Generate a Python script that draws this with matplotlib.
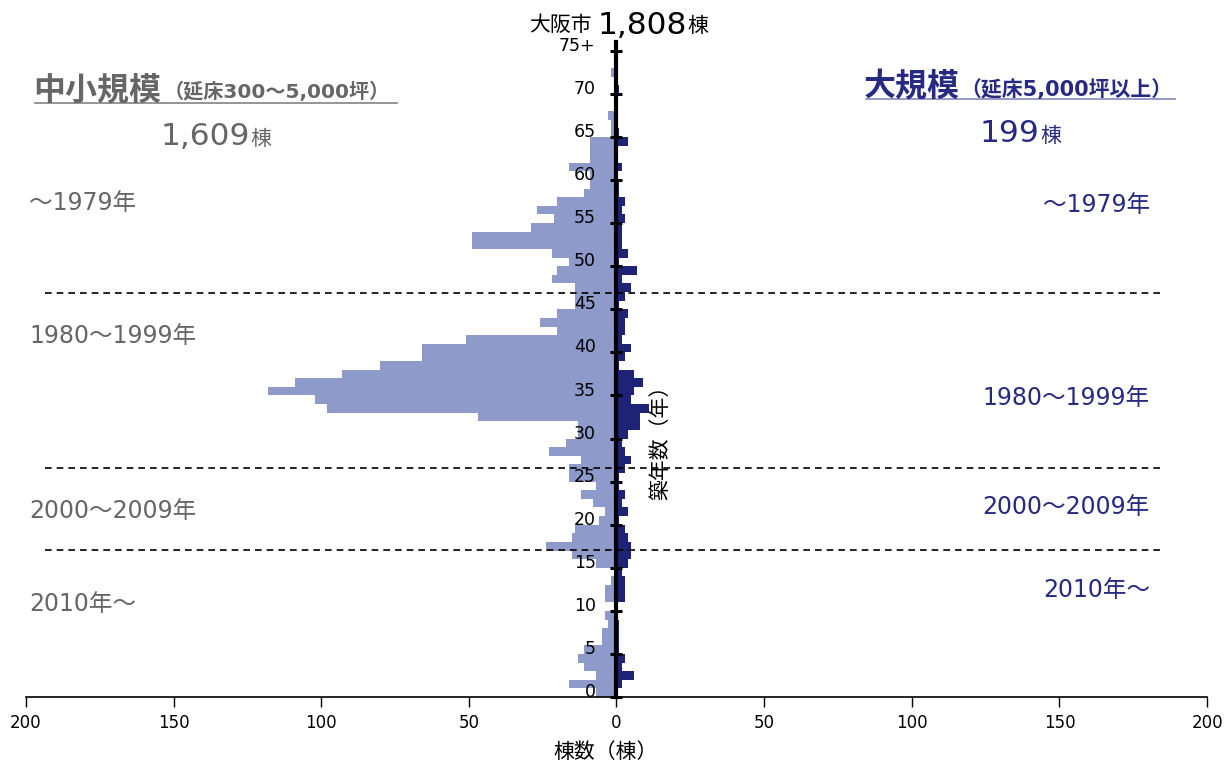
import numpy as np
import matplotlib
matplotlib.use("Agg")
import matplotlib.pyplot as plt

plt.rcParams['font.family'] = ['DejaVu Sans', 'Noto Sans CJK JP']

# building age (years) 0..75+, counts per age
ages = list(range(76))
age_labels = [str(a) for a in range(0, 75, 5)] + ['75+']

# 中小規模 (延床300~5,000坪), age 0..75
small = [7, 16, 7, 11, 13, 11, 5, 5, 3, 4,
         1, 4, 4, 2, 1, 7, 15, 24, 15, 14,
         6, 4, 8, 12, 7, 16, 16, 12, 23, 17,
         13, 13, 47, 98, 102, 118, 109, 93, 80, 66,
         66, 51, 20, 26, 20, 14, 14, 14, 22, 20,
         16, 22, 49, 49, 29, 21, 27, 20, 11, 9,
         9, 16, 9, 9, 9, 2, 2, 3, 0, 0,
         0, 0, 2, 0, 0, 0]

# 大規模 (延床5,000坪以上), age 0..75
large = [0, 2, 6, 2, 3, 1, 1, 1, 1, 0,
         0, 3, 3, 3, 2, 4, 5, 5, 4, 3,
         1, 4, 2, 3, 1, 1, 3, 5, 3, 2,
         4, 8, 8, 11, 5, 6, 9, 6, 1, 3,
         5, 2, 3, 3, 4, 1, 3, 5, 2, 7,
         1, 4, 2, 2, 2, 3, 2, 3, 1, 1,
         0, 2, 0, 0, 4, 1, 0, 0, 0, 0,
         1, 0, 0, 0, 0, 0]

# era boundaries (in age units) and era names
era_bounds = [46.85, 26.55, 17.1]
eras = ['～1979年', '1980～1999年', '2000～2009年', '2010年～']

GREY = '#666666'
NAVY = '#262a80'
LIGHT = '#8e9aca'
DARK = '#1f2377'

W, H = 1226, 769
fig = plt.figure(figsize=(W / 100, H / 100), dpi=100)
ax = fig.add_axes([25.9 / W, 1 - 697.1 / H, 1181.2 / W, 655.0 / H])


def px(x, y):
    return x / W, 1 - y / H


ax.barh(ages, [-v for v in small], height=1, align='edge',
        color=LIGHT, linewidth=0)
ax.barh(ages, large, height=1, align='edge',
        color=DARK, linewidth=0)

ax.set_xlim(-200, 200)
ax.set_ylim(0, 76)

for b in era_bounds:
    ax.plot([-193.5, 184], [b, b], color='black', lw=1.2,
            ls=(0, (4, 3)), zorder=1)

# spines
ax.spines['top'].set_visible(False)
ax.spines['right'].set_visible(False)
ax.spines['left'].set_position(('data', 0))
ax.spines['left'].set_linewidth(3)
ax.spines['left'].set_zorder(5)
ax.spines['bottom'].set_linewidth(1.2)

# x axis
xt = np.arange(-200, 201, 50)
ax.set_xticks(xt)
ax.set_xticklabels([str(abs(v)) for v in xt], fontsize=12)
ax.tick_params(axis='x', direction='out', length=7, width=1, pad=5)

# y axis: ticks at boundaries, labels at category centres
ax.set_yticks(np.arange(0, 76, 5))
ax.set_yticklabels([])
ax.tick_params(axis='y', which='major', direction='inout', length=9,
               width=2.2, color='black')
ax.set_yticks([a + 0.8 for a in range(0, 76, 5)], minor=True)
ax.set_yticklabels(age_labels, minor=True, fontsize=12.5)
ax.tick_params(axis='y', which='minor', length=0, pad=15)

# axis titles
fig.text(*px(606, 752), '棟数（棟）', fontsize=15, ha='center', va='center')
fig.text(*px(660, 437), '築年数（年）', fontsize=15, ha='center',
         va='center', rotation=90)

# title
fig.text(*px(592, 31), '大阪市', fontsize=15, ha='right', va='baseline')
fig.text(*px(598, 34), '1,808', fontsize=22.5, ha='left', va='baseline')
fig.text(*px(687, 32), '棟', fontsize=15, ha='left', va='baseline')

# left heading
fig.text(*px(33, 100), '中小規模', fontsize=23, fontweight='bold',
         color=GREY, ha='left', va='baseline')
fig.text(*px(164, 98), '（延床300～5,000坪）', fontsize=14.5, fontweight='bold',
         color=GREY, ha='left', va='baseline')
fig.add_artist(plt.Line2D([35 / W, 397 / W], [1 - 103 / H, 1 - 103 / H],
                          color='#8c8c8c', lw=1.3))
fig.text(*px(161, 145), '1,609', fontsize=22.5, color=GREY, ha='left',
         va='baseline')
fig.text(*px(250, 145), '棟', fontsize=15, color=GREY, ha='left',
         va='baseline')

# right heading
fig.text(*px(864, 96), '大規模', fontsize=23, fontweight='bold',
         color=NAVY, ha='left', va='baseline')
fig.text(*px(960, 96), '（延床5,000坪以上）', fontsize=15, fontweight='bold',
         color=NAVY, ha='left', va='baseline')
fig.add_artist(plt.Line2D([866 / W, 1175 / W], [1 - 99 / H, 1 - 99 / H],
                          color='#8e92c2', lw=1.3))
fig.text(*px(980, 142), '199', fontsize=22.5, color=NAVY, ha='left',
         va='baseline')
fig.text(*px(1040, 142), '棟', fontsize=15, color=NAVY, ha='left',
         va='baseline')

# era labels
left_y = [203, 336, 511, 604]
right_y = [205, 398, 507, 590]
for name, yl, yr in zip(eras, left_y, right_y):
    fig.text(*px(29, yl), name, fontsize=17, color=GREY, ha='left',
             va='center')
    fig.text(*px(1150, yr), name, fontsize=17, color=NAVY, ha='right',
             va='center')

fig.savefig('out.png', dpi=100)
